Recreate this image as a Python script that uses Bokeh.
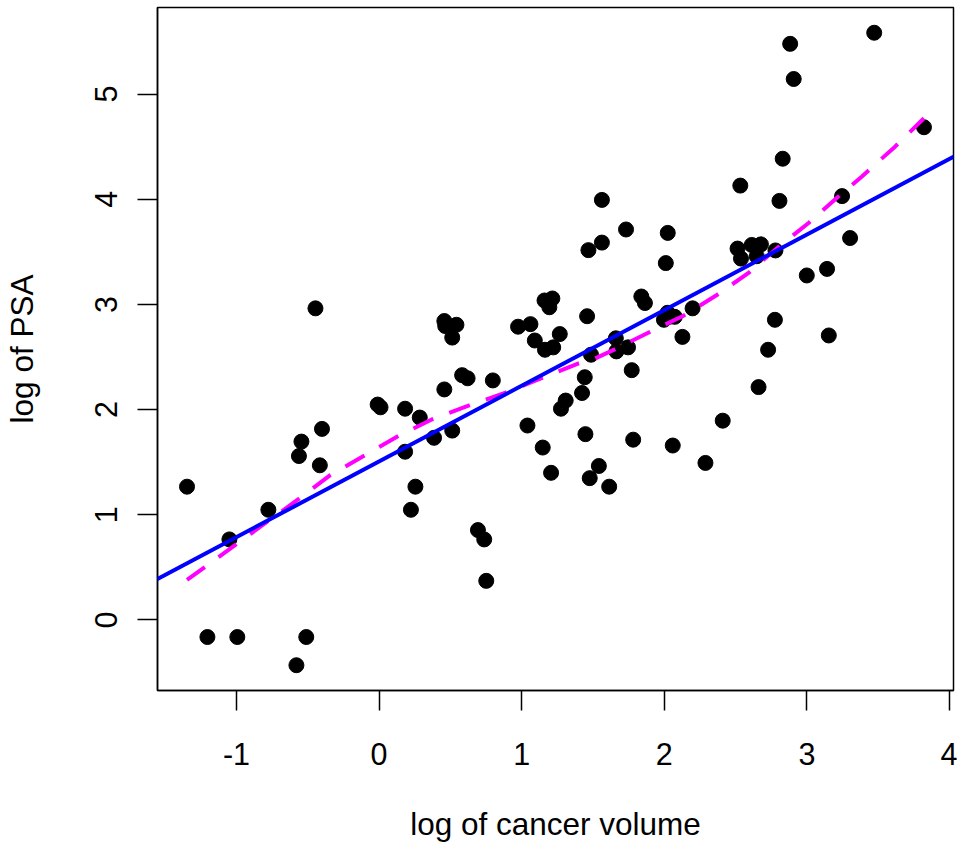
from bokeh.plotting import figure
from bokeh.models import Range1d, FixedTicker, Slope, ColumnDataSource
from bokeh.embed import file_html
from bokeh.resources import INLINE

lcavol = [-0.5798185, -0.9942523, -0.5108256, -1.2039728, 0.7514161, -1.0498221, 0.7371641,
          0.6931472, -0.7765288, 0.2231436, 0.2546422, -1.3470736, 1.6134300, 1.4770487,
          1.2059708, 1.5411591, -0.4155154, 2.2884862, -0.5621189, 0.1823216, 1.1474025,
          2.0592388, -0.5447272, 1.7817091, 0.3852624, 1.4469190, 0.5128236, -0.4004776,
          1.0402767, 2.4096442, 0.2851789, 0.1823216, 1.2753628, 0.0099503, -0.0100503,
          1.3083328, 1.4231083, 0.4574248, 2.6609614, 0.7975072, 0.6205765, 1.4422020,
          0.5822156, 1.7715568, 1.4861397, 1.6639261, 2.7278528, 1.1631508, 1.7457155,
          1.2208299, 1.0919233, 1.6601310, 0.5128236, 2.1270405, 3.1535904, 1.2669476,
          0.9745596, 0.4637340, 0.5423243, 1.0612565, 0.4574248, 1.9974177, 2.7757089,
          2.0346660, 2.0731719, 1.4586150, 2.0228712, 2.1983351, -0.4462871, 1.1939225,
          1.8640801, 1.1600209, 1.2149127, 1.8389611, 2.9992262, 3.1411305, 2.0104989,
          2.5376572, 2.6483002, 2.7794402, 1.4678743, 2.5136561, 2.6130067, 2.6775910,
          1.5623463, 3.3028493, 2.0241931, 1.7316555, 2.8075938, 1.5623463, 3.2464910,
          2.5329028, 2.8302678, 3.8210036, 2.9074474, 2.8825636, 3.4719665]
lpsa = [-0.4307829, -0.1625189, -0.1625189, -0.1625189, 0.3715636, 0.7654678, 0.7654678,
        0.8544153, 1.0473190, 1.0473190, 1.2669476, 1.2669476, 1.2669476, 1.3480731,
        1.3987169, 1.4638184, 1.4701758, 1.4929041, 1.5581446, 1.5993876, 1.6389967,
        1.6582281, 1.6956156, 1.7137979, 1.7316555, 1.7664417, 1.8000583, 1.8164521,
        1.8484548, 1.8946169, 1.9242487, 2.0082140, 2.0082140, 2.0215476, 2.0476928,
        2.0856721, 2.1575593, 2.1916535, 2.2137539, 2.2772673, 2.2975726, 2.3075726,
        2.3272777, 2.3749058, 2.5217206, 2.5533438, 2.5687881, 2.5687881, 2.5915164,
        2.5915164, 2.6567569, 2.6775910, 2.6844403, 2.6912431, 2.7047113, 2.7180005,
        2.7880929, 2.7942279, 2.8063861, 2.8124102, 2.8419982, 2.8535925, 2.8535925,
        2.8820035, 2.8820035, 2.8875901, 2.9204698, 2.9626924, 2.9626924, 2.9729753,
        3.0130809, 3.0373539, 3.0563569, 3.0750055, 3.2752562, 3.3375474, 3.3928291,
        3.4355988, 3.4578927, 3.5130369, 3.5160131, 3.5307626, 3.5652984, 3.5709402,
        3.5876769, 3.6309855, 3.6800909, 3.7123518, 3.9843437, 3.9936030, 4.0298060,
        4.1295508, 4.3851468, 4.6844434, 5.1431245, 5.4775090, 5.5829322]

# fitted regression line
fit_intercept = 1.507
fit_slope = 0.719

# smooth curve vertices
smooth_x = [-1.347, -0.566, -0.345, 0.144, 0.376, 0.643, 0.887, 1.150, 1.399, 1.515, 1.666,
            1.898, 2.131, 2.363, 2.596, 2.782, 3.014, 3.223, 3.386, 3.618, 3.821]
smooth_y = [0.38, 1.148, 1.375, 1.756, 1.91, 2.045, 2.162, 2.304, 2.439, 2.486, 2.581,
            2.738, 2.89, 3.084, 3.305, 3.525, 3.777, 4.028, 4.217, 4.50, 4.77]

x_ticks = [-1, 0, 1, 2, 3, 4]
x_tick_labels = ["-1", "0", "1", "2", "3", "4"]
y_ticks = [0, 1, 2, 3, 4, 5]
y_tick_labels = ["0", "1", "2", "3", "4", "5"]

FONT = "Liberation Sans"

p = figure(width=957, height=844, output_backend="svg", toolbar_location=None,
           x_range=Range1d(-1.554, 4.028), y_range=Range1d(-0.671, 5.823),
           min_border_left=157, min_border_right=4, min_border_top=7, min_border_bottom=150)
p.grid.visible = False
p.outline_line_color = "black"
p.outline_line_width = 1.5
p.background_fill_color = "white"
p.border_fill_color = "white"

p.xaxis.ticker = FixedTicker(ticks=x_ticks)
p.yaxis.ticker = FixedTicker(ticks=y_ticks)
p.xaxis.major_label_overrides = {t: s for t, s in zip(x_ticks, x_tick_labels)}
p.yaxis.major_label_overrides = {t: s for t, s in zip(y_ticks, y_tick_labels)}
for ax in (p.xaxis, p.yaxis):
    ax.axis_line_color = "black"
    ax.axis_line_width = 1.5
    ax.major_tick_line_color = "black"
    ax.major_tick_line_width = 1.5
    ax.major_tick_in = 0
    ax.major_tick_out = 20
    ax.minor_tick_line_color = None
    ax.major_label_text_font = FONT
    ax.major_label_text_font_size = "30.5px"
    ax.major_label_text_color = "black"
    ax.axis_label_text_font = FONT
    ax.axis_label_text_font_size = "31.5px"
    ax.axis_label_text_font_style = "normal"
    ax.axis_label_text_color = "black"

p.xaxis.axis_label = "log of cancer volume"
p.yaxis.axis_label = "log of PSA"
p.xaxis.major_label_standoff = 32
p.xaxis.axis_label_standoff = 38
p.yaxis.major_label_orientation = "vertical"
p.yaxis.major_label_standoff = 20
p.yaxis.axis_label_standoff = 53

src = ColumnDataSource(dict(x=lcavol, y=lpsa))
p.scatter("x", "y", source=src, size=15, color="black", marker="circle")

p.add_layout(Slope(gradient=fit_slope, y_intercept=fit_intercept,
                   line_color="#0000FF", line_width=4))
p.line(smooth_x, smooth_y, line_color="#FF00FF", line_width=4, line_dash="22 17")

open("out.html", "w").write(file_html(p, INLINE))
